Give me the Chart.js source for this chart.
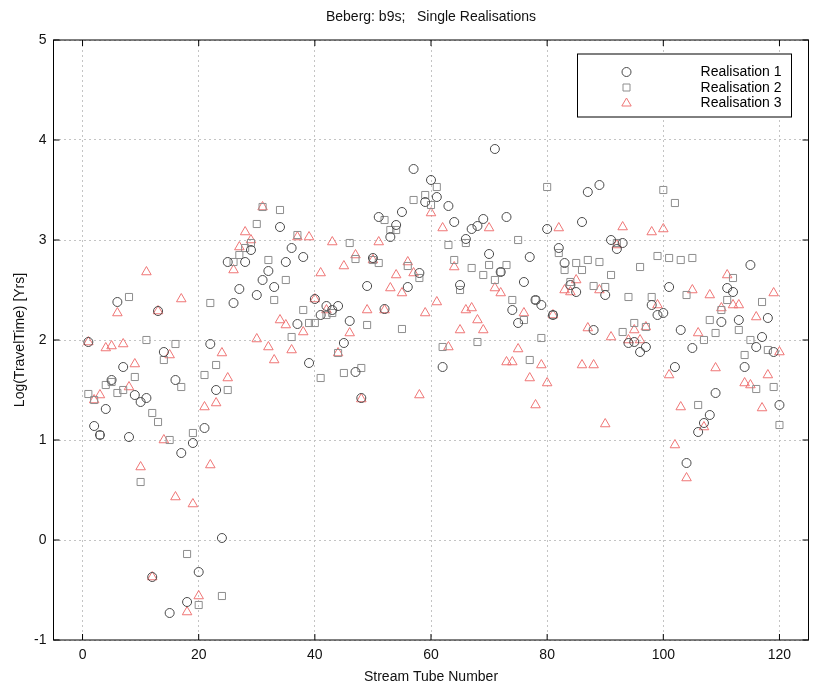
<!DOCTYPE html>
<html>
<head>
<meta charset="utf-8">
<title>Beberg: b9s; Single Realisations</title>
<script src="https://cdn.jsdelivr.net/npm/chart.js"></script>
<style>
  html, body { margin: 0; padding: 0; background: #fff; overflow: hidden; }
  #scatterChart { display: block; }
</style>
</head>
<body>
<canvas id="scatterChart" width="815" height="689"></canvas>
<script>
// stream tube numbers (x)
const tubes = [
    1, 2, 3, 4, 5, 6, 7, 8, 9, 10, 11, 12, 13, 14, 15, 16, 17, 18, 19, 20,
    21, 22, 23, 24, 25, 26, 27, 28, 29, 30, 31, 32, 33, 34, 35, 36, 37, 38, 39, 40,
    41, 42, 43, 44, 45, 46, 47, 48, 49, 50, 51, 52, 53, 54, 55, 56, 57, 58, 59, 60,
    61, 62, 63, 64, 65, 66, 67, 68, 69, 70, 71, 72, 73, 74, 75, 76, 77, 78, 79, 80,
    81, 82, 83, 84, 85, 86, 87, 88, 89, 90, 91, 92, 93, 94, 95, 96, 97, 98, 99, 100,
    101, 102, 103, 104, 105, 106, 107, 108, 109, 110, 111, 112, 113, 114, 115, 116, 117, 118, 119, 120
];

// log travel time, realisation 1 (circles)
const real1 = [
    1.98, 1.14, 1.05, 1.31, 1.60, 2.38, 1.73, 1.03, 1.45, 1.38, 1.42, -0.37, 2.29, 1.88, -0.73, 1.60, 0.87, -0.62, 0.97, -0.32,
    1.12, 1.96, 1.50, 0.02, 2.78, 2.37, 2.51, 2.78, 2.90, 2.45, 2.60, 2.69, 2.53, 3.13, 2.78, 2.92, 2.16, 2.83, 1.77, 2.41,
    2.25, 2.34, 2.30, 2.34, 1.97, 2.19, 1.68, 1.42, 2.54, 2.82, 3.23, 2.31, 3.03, 3.15, 3.28, 2.53, 3.71, 2.67, 3.38, 3.60,
    3.43, 1.73, 3.34, 3.18, 2.55, 3.01, 3.11, 3.14, 3.21, 2.86, 3.91, 2.68, 3.23, 2.30, 2.17, 2.58, 2.83, 2.40, 2.35, 3.11,
    2.25, 2.92, 2.77, 2.55, 2.48, 3.18, 3.48, 2.10, 3.55, 2.45, 3.00, 2.91, 2.97, 1.97, 1.98, 1.88, 1.93, 2.35, 2.25, 2.27,
    2.53, 1.73, 2.10, 0.77, 1.92, 1.08, 1.17, 1.25, 1.47, 2.18, 2.52, 2.48, 2.20, 1.73, 2.75, 1.93, 2.03, 2.22, 1.88, 1.35
];

// realisation 2 (squares)
const real2 = [
    1.46, 1.40, 1.05, 1.55, 1.58, 1.47, 1.50, 2.43, 1.63, 0.58, 2.00, 1.27, 1.18, 1.80, 1.00, 1.96, 1.53, -0.14, 1.07, -0.65,
    1.65, 2.37, 1.75, -0.56, 1.50, 2.78, 2.85, 2.92, 2.97, 3.16, 3.33, 2.80, 2.40, 3.30, 2.60, 2.03, 3.05, 2.30, 2.17, 2.17,
    1.62, 2.25, 2.27, 1.87, 1.67, 2.97, 2.81, 1.72, 2.15, 2.80, 2.77, 3.20, 3.10, 3.10, 2.11, 2.74, 3.40, 2.62, 3.45, 3.35,
    3.53, 1.93, 2.95, 2.80, 2.50, 2.97, 2.72, 1.98, 2.65, 2.75, 2.60, 2.68, 2.75, 2.40, 3.00, 2.20, 1.80, 2.40, 2.02, 3.53,
    2.25, 2.87, 2.70, 2.58, 2.77, 2.70, 2.80, 2.54, 2.78, 2.53, 2.65, 2.97, 2.08, 2.43, 2.17, 2.73, 2.13, 2.43, 2.84, 3.50,
    2.82, 3.37, 2.80, 2.45, 2.82, 1.35, 2.00, 2.20, 2.07, 2.30, 2.40, 2.62, 2.10, 1.85, 2.00, 1.51, 2.38, 1.90, 1.53, 1.15
];

// realisation 3 (triangles)
const real3 = [
    1.98, 1.40, 1.45, 1.92, 1.94, 2.27, 1.96, 1.53, 1.76, 0.73, 2.68, -0.37, 2.29, 1.00, 1.85, 0.43, 2.41, -0.72, 0.36, -0.56,
    1.33, 0.75, 1.37, 1.87, 1.62, 2.70, 2.93, 3.08, 3.00, 2.01, 3.33, 1.93, 1.80, 2.20, 2.15, 1.90, 3.03, 2.08, 3.03, 2.41,
    2.67, 2.30, 2.98, 1.87, 2.74, 2.07, 2.85, 1.41, 2.30, 2.80, 2.98, 2.30, 2.52, 2.65, 2.47, 2.78, 2.67, 1.45, 2.27, 3.27,
    2.38, 3.12, 1.93, 2.73, 2.10, 2.30, 2.32, 2.20, 2.10, 3.12, 2.52, 2.47, 1.78, 1.78, 1.91, 2.27, 1.62, 1.35, 1.75, 1.57,
    2.25, 3.12, 2.50, 2.48, 2.60, 1.75, 2.12, 1.75, 2.50, 1.16, 2.03, 2.95, 3.13, 2.00, 2.10, 2.00, 2.13, 3.08, 2.35, 3.11,
    1.65, 0.95, 1.33, 0.62, 2.50, 2.07, 1.13, 2.45, 1.72, 2.32, 2.65, 2.35, 2.35, 1.57, 1.55, 2.23, 1.32, 1.65, 2.47, 1.88
];

const seriesNames = ["Realisation 1", "Realisation 2", "Realisation 3"];
const xTicks = [0, 20, 40, 60, 80, 100, 120];
const yTicks = [-1, 0, 1, 2, 3, 4, 5];
const chartTitle = "Beberg: b9s;   Single Realisations";

const FONT = "'Liberation Sans', Arial, Helvetica, sans-serif";
const FONT_SIZE = 14;

// box round the axes with inward tick marks, plus the title over the plot
const axesFrame = {
    id: "axesFrame",
    beforeDatasetsDraw(chart) {
        const { ctx, chartArea: a, scales } = chart;
        ctx.save();
        ctx.strokeStyle = "#000";
        ctx.lineWidth = 1;
        ctx.strokeRect(a.left, a.top, a.right - a.left, a.bottom - a.top);
        ctx.beginPath();
        xTicks.forEach(v => {
            const px = scales.x.getPixelForValue(v);
            ctx.moveTo(px, a.bottom); ctx.lineTo(px, a.bottom - 6);
            ctx.moveTo(px, a.top); ctx.lineTo(px, a.top + 6);
        });
        yTicks.forEach(v => {
            const py = scales.y.getPixelForValue(v);
            ctx.moveTo(a.left, py); ctx.lineTo(a.left + 6, py);
            ctx.moveTo(a.right, py); ctx.lineTo(a.right - 6, py);
        });
        ctx.stroke();

        ctx.fillStyle = "#111";
        ctx.font = FONT_SIZE + "px " + FONT;
        ctx.textAlign = "center";
        ctx.textBaseline = "middle";
        ctx.fillText(chartTitle, (a.left + a.right) / 2, a.top - 23);
        ctx.restore();
    }
};

// legend box in the upper right corner
const legendBox = {
    id: "legendBox",
    afterDraw(chart) {
        const { ctx, chartArea: a } = chart;
        const w = 214, h = 63;
        const x0 = a.right - 17 - w, y0 = a.top + 14;
        ctx.save();
        ctx.fillStyle = "#fff";
        ctx.fillRect(x0, y0, w, h);
        ctx.strokeStyle = "#000";
        ctx.lineWidth = 1;
        ctx.strokeRect(x0, y0, w, h);
        ctx.font = FONT_SIZE + "px " + FONT;
        ctx.textAlign = "right";
        ctx.textBaseline = "middle";
        chart.data.datasets.forEach((ds, i) => {
            const y = y0 + 18 + i * 15.5;
            const x = x0 + 49;
            ctx.strokeStyle = ds.borderColor;
            ctx.lineWidth = 1;
            ctx.beginPath();
            if (ds.pointStyle === "circle") {
                ctx.arc(x, y, 4.5, 0, Math.PI * 2);
            } else if (ds.pointStyle === "rect") {
                ctx.rect(x - 3.5, y - 3.5, 7, 7);
            } else {
                ctx.moveTo(x, y - 5);
                ctx.lineTo(x + 4.7, y + 3);
                ctx.lineTo(x - 4.7, y + 3);
                ctx.closePath();
            }
            ctx.stroke();
            ctx.fillStyle = "#000";
            ctx.fillText(ds.label, x0 + w - 10, y + 0.5);
        });
        ctx.restore();
    }
};

const toPoints = vals => tubes.map((t, i) => ({ x: t, y: vals[i] }));

const ctx = document.getElementById("scatterChart").getContext("2d");
new Chart(ctx, {
    type: "scatter",
    data: {
        datasets: [
            {
                label: seriesNames[0],
                data: toPoints(real1),
                pointStyle: "circle",
                pointRadius: 4.5,
                borderColor: "#4a4a4a",
                backgroundColor: "rgba(0,0,0,0)",
                borderWidth: 1
            },
            {
                label: seriesNames[1],
                data: toPoints(real2),
                pointStyle: "rect",
                pointRadius: 5,
                borderColor: "#8e8e8e",
                backgroundColor: "rgba(0,0,0,0)",
                borderWidth: 1
            },
            {
                label: seriesNames[2],
                data: toPoints(real3),
                pointStyle: "triangle",
                pointRadius: 5.5,
                borderColor: "#ef7676",
                backgroundColor: "rgba(0,0,0,0)",
                borderWidth: 1
            }
        ]
    },
    options: {
        responsive: false,
        animation: false,
        events: [],
        layout: { padding: { left: 0, right: 1, top: 40, bottom: 0 } },
        plugins: {
            legend: { display: false },
            tooltip: { enabled: false },
            title: { display: false }
        },
        scales: {
            x: {
                type: "linear",
                min: -5,
                max: 125,
                afterBuildTicks: s => { s.ticks = xTicks.map(v => ({ value: v })); },
                afterFit: s => { s.height = 49; },
                grid: { color: "#c4c4c4", drawTicks: false },
                border: { display: false, dash: [2, 3] },
                ticks: { color: "#111", padding: 7, font: { family: FONT, size: FONT_SIZE } },
                title: {
                    display: true,
                    text: "Stream Tube Number",
                    color: "#111",
                    font: { family: FONT, size: FONT_SIZE },
                    padding: { top: 0, bottom: 3.5 }
                }
            },
            y: {
                type: "linear",
                min: -1,
                max: 5,
                afterBuildTicks: s => { s.ticks = yTicks.map(v => ({ value: v })); },
                afterFit: s => { s.width = 53.5; },
                grid: { color: "#c4c4c4", drawTicks: false },
                border: { display: false, dash: [2, 3] },
                ticks: { color: "#111", padding: 7, font: { family: FONT, size: FONT_SIZE } },
                title: {
                    display: true,
                    text: "Log(TravelTime) [Yrs]",
                    color: "#111",
                    font: { family: FONT, size: FONT_SIZE },
                    padding: { top: 11.5, bottom: 0 }
                }
            }
        }
    },
    plugins: [axesFrame, legendBox]
});
</script>
</body>
</html>
